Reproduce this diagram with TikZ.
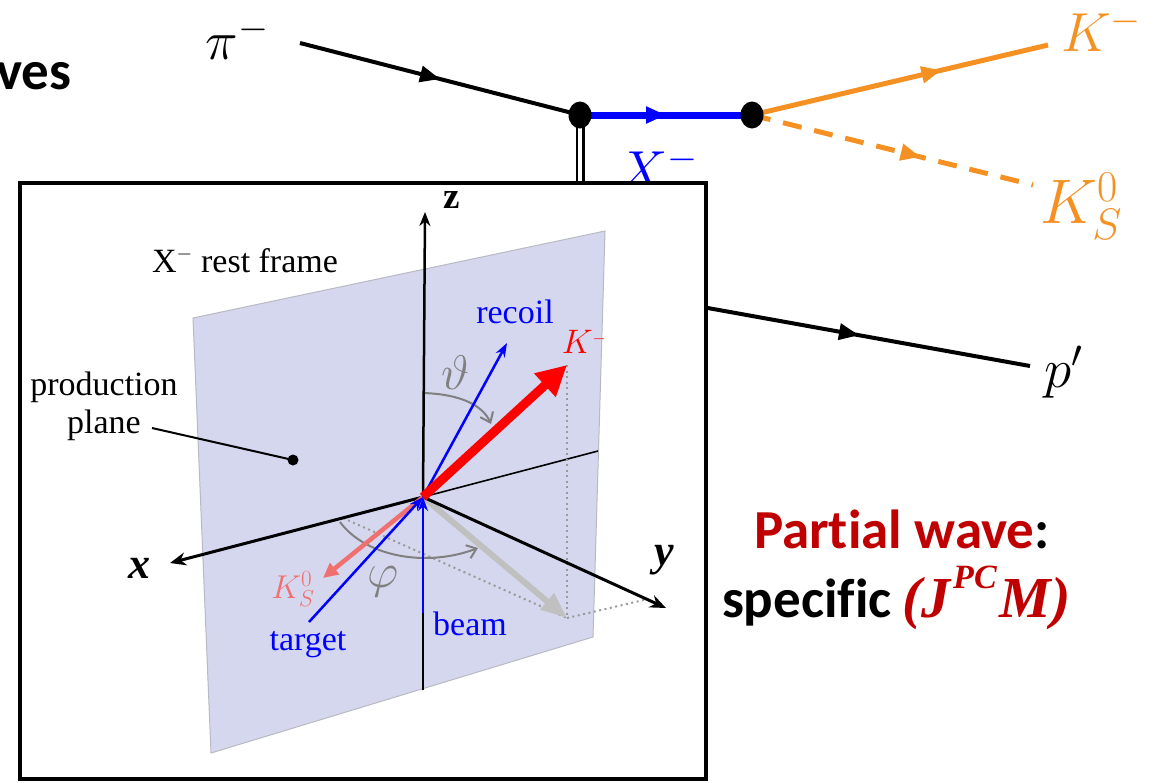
\RequirePackage{fix-cm}
\documentclass[tikz,border=0pt]{standalone}
\usepackage{fontspec}
\setmainfont{Liberation Serif}
\newfontfamily\calfont[Ligatures=NoCommon]{Carlito}
\usetikzlibrary{arrows.meta,decorations.markings,shapes.geometric}

\definecolor{kaon}{RGB}{245,145,35}
\definecolor{planefill}{RGB}{213,215,238}
\definecolor{planeedge}{RGB}{185,185,195}
\definecolor{pwred}{RGB}{192,0,0}
\definecolor{ksred}{RGB}{240,112,112}
\definecolor{arcgray}{RGB}{128,128,128}
\definecolor{projgray}{RGB}{192,192,192}

\tikzset{
  lbl/.style={inner sep=0pt, outer sep=0pt},
  midarrow/.style={postaction={decorate},
    decoration={markings, mark=at position #1 with {\arrow{Triangle[length=20pt,width=16pt]}}}},
  vertexdot/.style={fill=black, ellipse, minimum width=23pt, minimum height=27pt, inner sep=0pt},
  axis/.style={line width=3pt, -{Stealth[length=16pt,width=13pt]}},
  thinvec/.style={line width=2.5pt, -{Stealth[length=14pt,width=10pt]}},
  dotline/.style={arcgray!80, line width=2pt, dash pattern=on 2pt off 3.5pt},
  anglearc/.style={arcgray, line width=2pt, -{Straight Barb[length=9pt,width=14pt]}},
  frametxt/.style={lbl, font=\fontsize{34}{38}\selectfont},
  feyntxt/.style={lbl, font=\fontsize{55}{60}\selectfont},
  captxt/.style={lbl, anchor=base west, font=\calfont\bfseries\fontsize{55}{60}\selectfont},
}

\begin{document}
\begin{tikzpicture}[x=1pt, y=-1pt]
\useasboundingbox (0,0) rectangle (1156,782);

% ---------- heading fragment ----------
\node[captxt] (head) at (-4,89) {ves};

% ---------- production / decay diagram ----------
\coordinate (piS) at (300,43);
\coordinate (v1) at (580,115);
\coordinate (v2) at (752,115);
\coordinate (kmE) at (1048,45);
\coordinate (ksE) at (1033,185);
\coordinate (v3) at (580,285);
\coordinate (pE) at (1030,366);

\draw[line width=4pt, midarrow=0.5] (piS) -- (v1);
\draw[blue, line width=7pt, midarrow=0.5] (v1) -- (v2);
\draw[kaon, line width=5pt, midarrow=0.64] (v2) -- (kmE);
\draw[kaon, line width=5pt, dash pattern=on 19pt off 13pt, midarrow=0.6] (v2) -- (ksE);
\draw[line width=2.5pt, double=white, double distance=4pt] (v1) -- (v3);
\draw[line width=4pt, midarrow=0.62] (v3) -- (pE);

\node[vertexdot] (d1) at (v1) {};
\node[vertexdot] (d2) at (v2) {};

\node[feyntxt] (pilab) at (237,38) {$\pi^-$};
\node[feyntxt, anchor=west, text=kaon] (kmlab) at (1061,30) {$K^-$};
\node[lbl, font=\fontsize{63}{66}\selectfont, anchor=west, text=kaon] (kslab) at (1040,206) {$K_S^0$};
\node[feyntxt, text=blue] (xlab) at (658,168) {$X^-$};
\node[feyntxt] (plab) at (1064,372) {$p'$};

% ---------- rest-frame panel ----------
\draw[line width=4pt, fill=white] (20,183) rectangle (706,779);

\coordinate (O) at (423,497);
\fill[planefill] (193,318) -- (605,231) -- (593,637) -- (211,753) -- cycle;
\draw[planeedge, line width=1pt] (193,318) -- (605,231) -- (593,637) -- (211,753) -- cycle;

% axes behind the origin
\draw[line width=1.6pt] (O) -- (598,451);
\draw[line width=1.8pt] (423,690) -- (O);

% projections
\draw[dotline] (567,365) -- (567,618);
\draw[dotline] (343,518) -- (567,618);
\draw[dotline] (567,618) -- (648,599);

% angles
\draw[anglearc] (423,393) .. controls (458,394) and (482,404) .. (491,424);
\draw[anglearc] (340,522) .. controls (365,556) and (425,568) .. (478,548);

% vectors
\draw[projgray, line width=6pt, -{Triangle[length=26pt,width=20pt]}] (O) -- (567,618);
\draw[axis] (O) -- (170,563);
\draw[axis] (O) -- (666,608);
\draw[line width=2.5pt, -{Stealth[length=14pt,width=11pt]}] (O) -- (425,212);
\draw[ksred, line width=4.5pt, -{Triangle[length=15pt,width=14pt]}] (O) -- (323,578);
\draw[blue, thinvec] (309,622) -- (O);
\draw[blue, thinvec] (423,613) -- (O);
\draw[blue, thinvec] (O) -- (507,343);
\draw[red, line width=9pt, -{Triangle[length=30pt,width=30pt]}] (O) -- (567,365);

% production plane marker
\fill (293,460) circle (5.5pt);
\draw[line width=2pt] (152,428) -- (293,460);

% labels
\node[lbl, font=\bfseries\fontsize{37}{40}\selectfont] (zlab) at (452,200) {z};
\node[lbl, font=\bfseries\itshape\fontsize{44}{48}\selectfont] (xlabel) at (139,568) {x};
\node[lbl, font=\bfseries\itshape\fontsize{44}{48}\selectfont] (ylabel) at (664,560) {y};
\node[frametxt, anchor=base west] (rest) at (152,272) {X\textsuperscript{\fontsize{20}{20}\selectfont$-$} rest frame};
\node[frametxt, align=center] (prod) at (104,406) {production\\plane};
\node[frametxt, text=blue] (recoil) at (515,312) {recoil};
\node[frametxt, text=red] (kmv) at (584,342) {$K^{\raisebox{-2pt}{$\scriptscriptstyle-$}}$};
\node[lbl, text=arcgray, scale=1.35, font=\fontsize{36}{40}\selectfont] (th) at (456,373) {$\vartheta$};
\node[lbl, text=arcgray, scale=1.35, font=\fontsize{36}{40}\selectfont] (ph) at (383,582) {$\varphi$};
\node[lbl, text=ksred, font=\fontsize{33}{36}\selectfont] (ksv) at (293,589) {$K_S^0$};
\node[frametxt, text=blue] (beam) at (470,624) {beam};
\node[frametxt, text=blue] (target) at (308,645) {target};

% ---------- partial wave caption ----------
\node[captxt] (pw) at (754,548) {\textcolor{pwred}{Partial wave}:};
\node[captxt] (spec) at (722,617)
  {specific\hspace{0.2em}{\fontsize{58}{60}\selectfont\rmfamily\itshape\color{pwred}(J\kern0.04em\raisebox{0.5em}{\fontsize{34}{34}\selectfont PC}\kern0.05em M)}};
\end{tikzpicture}
\end{document}
